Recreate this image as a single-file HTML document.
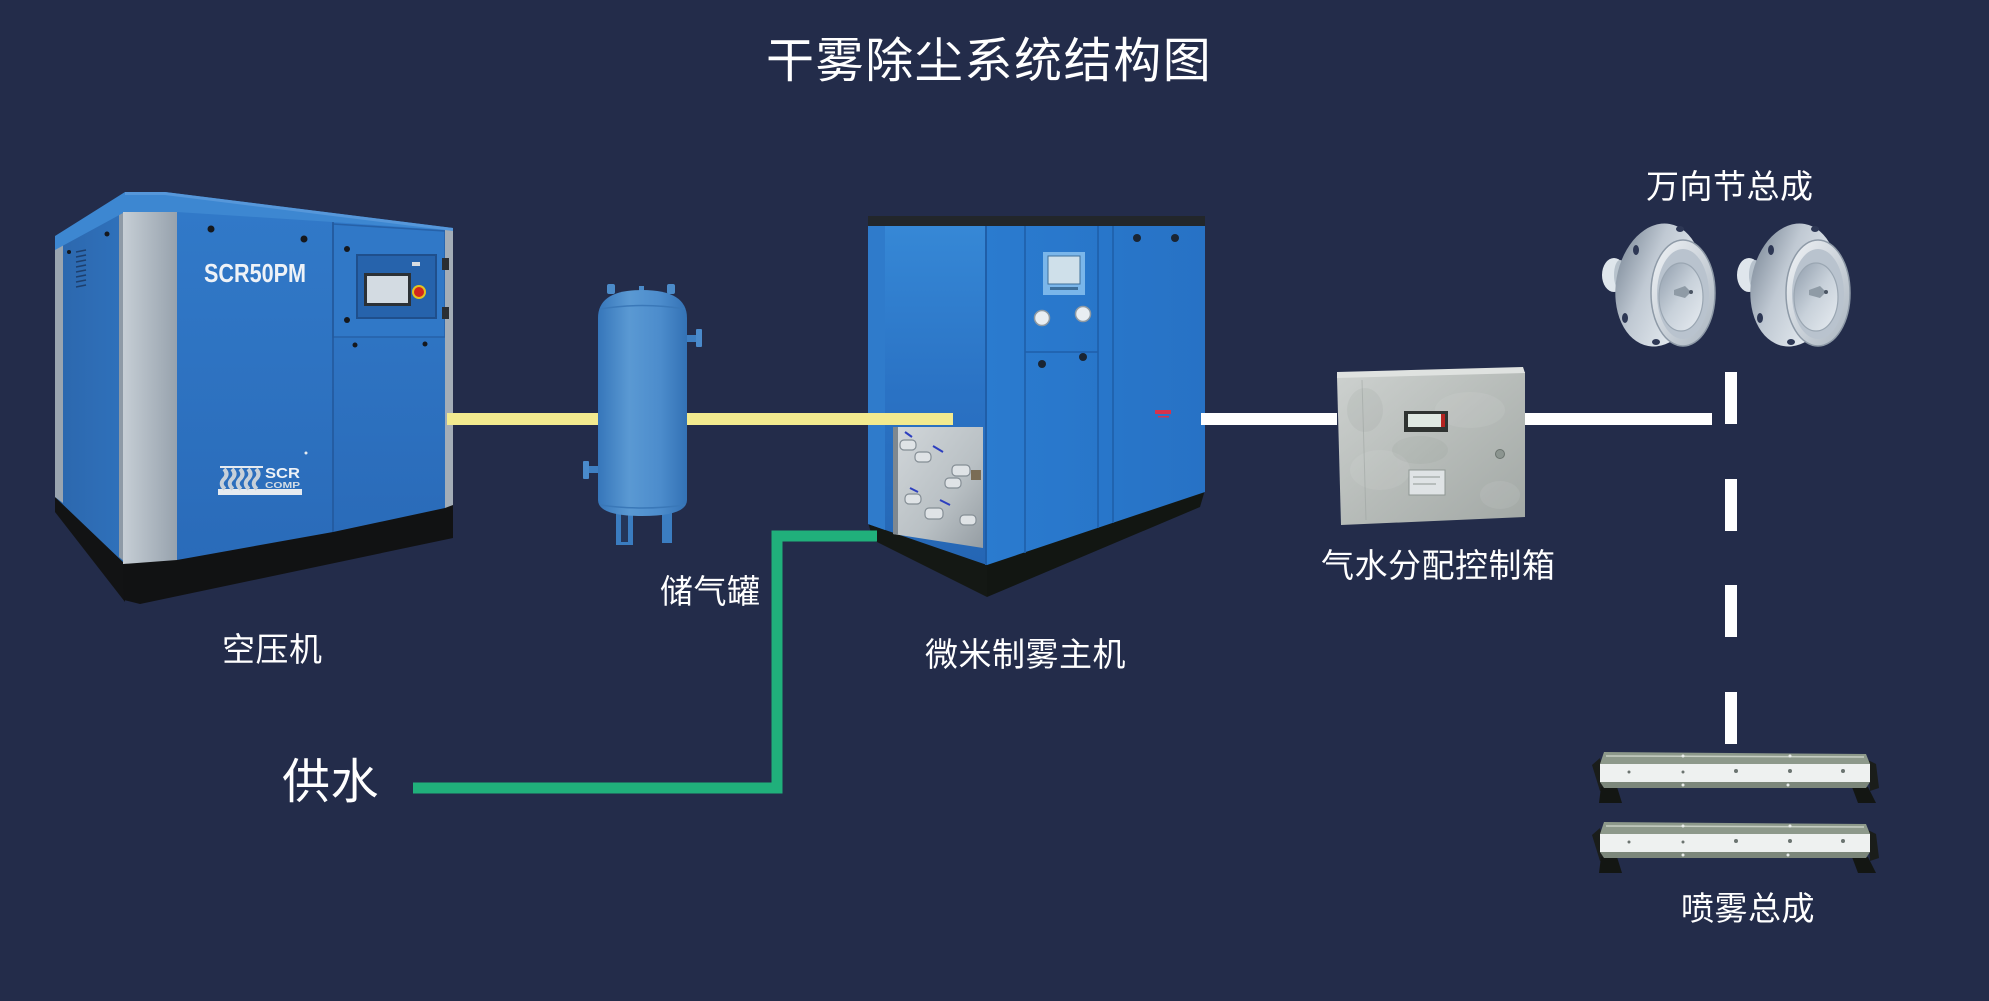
<!DOCTYPE html>
<html><head><meta charset="utf-8">
<style>
html,body{margin:0;padding:0;background:#232c4a;}
#c{position:relative;width:1989px;height:1001px;overflow:hidden;background:#232c4a;}
svg{position:absolute;left:0;top:0;}
.t{position:absolute;color:#fff;font-family:"Liberation Sans","Noto Sans CJK SC",sans-serif;line-height:1;white-space:nowrap;font-weight:400;}
</style></head><body><div id="c">
<svg width="1989" height="1001" viewBox="0 0 1989 1001">
<defs>
 <linearGradient id="gPil" x1="0" y1="0" x2="1" y2="0"><stop offset="0" stop-color="#c6ced5"/><stop offset="1" stop-color="#97a2ad"/></linearGradient>
 <linearGradient id="gFr" x1="0" y1="0" x2="0" y2="1"><stop offset="0" stop-color="#3179c8"/><stop offset="1" stop-color="#2a6bb9"/></linearGradient>
 <linearGradient id="gSd" x1="0" y1="0" x2="1" y2="0"><stop offset="0" stop-color="#2c67ad"/><stop offset="1" stop-color="#2f71bb"/></linearGradient>
 <linearGradient id="gTank" x1="0" y1="0" x2="1" y2="0"><stop offset="0" stop-color="#3676ba"/><stop offset="0.35" stop-color="#5a99d3"/><stop offset="0.7" stop-color="#4c8ccc"/><stop offset="1" stop-color="#3372b5"/></linearGradient>
 <linearGradient id="gMS" x1="0" y1="0" x2="0" y2="1"><stop offset="0" stop-color="#3688d6"/><stop offset="0.5" stop-color="#2a72c4"/><stop offset="1" stop-color="#2566b4"/></linearGradient>
 <linearGradient id="gMF" x1="0" y1="0" x2="1" y2="0"><stop offset="0" stop-color="#2a7bcf"/><stop offset="1" stop-color="#2772c5"/></linearGradient>
 <linearGradient id="gWin" x1="0" y1="0" x2="1" y2="1"><stop offset="0" stop-color="#d2d7da"/><stop offset="0.6" stop-color="#b9c0c4"/><stop offset="1" stop-color="#959da3"/></linearGradient>
 <linearGradient id="gBox" x1="0" y1="0" x2="1" y2="1"><stop offset="0" stop-color="#cdd1cf"/><stop offset="0.5" stop-color="#b7bcb9"/><stop offset="1" stop-color="#a2a8a5"/></linearGradient>
 <linearGradient id="gFl" x1="0" y1="0" x2="1" y2="0.3"><stop offset="0" stop-color="#7d8a99"/><stop offset="0.45" stop-color="#c0c9d3"/><stop offset="1" stop-color="#e6ecf1"/></linearGradient>
 <linearGradient id="gRim" x1="0" y1="0" x2="1" y2="1"><stop offset="0" stop-color="#f1f4f7"/><stop offset="1" stop-color="#a9b4bf"/></linearGradient>
 <linearGradient id="gDish" x1="0" y1="0" x2="1" y2="1"><stop offset="0" stop-color="#8f9cab"/><stop offset="0.5" stop-color="#c8d1da"/><stop offset="1" stop-color="#e8edf2"/></linearGradient>
</defs>

<!-- ============ COMPRESSOR ============ -->
<polygon points="55,495 123,556 125,602 55,512" fill="#121314"/>
<polygon points="123,560 453,503 453,538 140,604 124,600" fill="#111213"/>
<polygon points="55,248 123,212 123,562 55,497" fill="url(#gSd)"/>
<polygon points="55,248 63,244 63,503 55,497" fill="#9aa5b0"/>
<polygon points="119,213 125,212 125,562 119,557" fill="#8e9aa6"/>
<polygon points="55,236 125,192 165,192 453,228 453,244 177,213 123,213 55,250" fill="#3d87d1"/>
<polygon points="125,192 165,192 453,228 453,231 165,195 125,195" fill="#5697da"/>
<polygon points="123,212 177,212 177,560 123,564" fill="url(#gPil)"/>
<polygon points="177,212 333,222 333,532 177,560" fill="url(#gFr)"/>
<polygon points="333,222 445,230 445,508 333,532" fill="url(#gFr)"/>
<polygon points="333,224 445,231 445,337 333,337" fill="#3078c7" stroke="#2661a8" stroke-width="1.5"/>
<line x1="333" y1="222" x2="333" y2="532" stroke="#22579a" stroke-width="1.5"/>
<polygon points="445,230 453,231 453,505 445,508" fill="#a3adb7"/>
<rect x="442" y="258" width="7" height="12" fill="#2a2e33"/>
<rect x="442" y="307" width="7" height="12" fill="#2a2e33"/>
<rect x="357" y="255" width="79" height="63" fill="#2663ac" stroke="#1f4f8c" stroke-width="2"/>
<rect x="364" y="273" width="47" height="33" fill="#2c3136"/>
<rect x="367" y="276" width="41" height="27" fill="#d3dbe2"/>
<circle cx="419" cy="292" r="7" fill="#e3c21f"/>
<circle cx="419" cy="292" r="5" fill="#d3261c"/>
<rect x="412" y="262" width="8" height="4" fill="#d8dde2"/>
<g fill="#15181d">
<circle cx="211" cy="229" r="3.5"/><circle cx="304" cy="239" r="3.5"/>
<circle cx="347" cy="249" r="3"/><circle cx="347" cy="320" r="3"/>
<circle cx="355" cy="345" r="2.5"/><circle cx="425" cy="344" r="2.5"/>
<circle cx="107" cy="234" r="2.5"/><circle cx="69" cy="252" r="2"/>
</g>
<g stroke="#1d3f6d" stroke-width="1.6">
<line x1="76" y1="252" x2="86" y2="250"/><line x1="76" y1="257" x2="86" y2="255"/><line x1="76" y1="262" x2="86" y2="260"/>
<line x1="76" y1="267" x2="86" y2="265"/><line x1="76" y1="272" x2="86" y2="270"/><line x1="76" y1="277" x2="86" y2="275"/>
<line x1="76" y1="282" x2="86" y2="280"/><line x1="76" y1="287" x2="86" y2="285"/>
</g>
<text x="204" y="282" font-family="Liberation Sans, sans-serif" font-weight="bold" font-size="26" fill="#eef2f7" textLength="102" lengthAdjust="spacingAndGlyphs">SCR50PM</text>
<g>
<line x1="220" y1="467" x2="263" y2="467" stroke="#e6ebf0" stroke-width="2"/>
<rect x="218" y="489" width="84" height="6" fill="#e6ebf0"/>
<g fill="none" stroke="#c7d0d9" stroke-width="4">
<path d="M224,469 q5,5 0,10 q-5,5 1,10"/>
<path d="M232,469 q5,5 0,10 q-5,5 1,10"/>
<path d="M240,469 q5,5 0,10 q-5,5 1,10"/>
<path d="M248,469 q5,5 0,10 q-5,5 1,10"/>
<path d="M256,469 q5,5 0,10 q-5,5 1,10"/>
</g>
<text x="265" y="478" font-family="Liberation Sans, sans-serif" font-weight="bold" font-size="15" fill="#eef2f7" textLength="35" lengthAdjust="spacingAndGlyphs">SCR</text>
<text x="265" y="488" font-family="Liberation Sans, sans-serif" font-weight="bold" font-size="8" fill="#d5dde5" textLength="35" lengthAdjust="spacingAndGlyphs">COMP</text>
<circle cx="306" cy="453" r="1.5" fill="#e6ebf0"/>
</g>

<!-- ============ MAIN MACHINE ============ -->
<polygon points="868,522 987,556 987,597 873,540" fill="#141814"/>
<polygon points="987,563 1205,490 1200,507 987,597" fill="#121612"/>
<polygon points="868,225 987,225 987,565 868,524" fill="url(#gMS)"/>
<polygon points="868,225 885,225 885,530 868,524" fill="#2f7bcb"/>
<line x1="986" y1="225" x2="986" y2="565" stroke="#1f5ea8" stroke-width="2"/>
<polygon points="893,427 983,427 983,548 893,534" fill="url(#gWin)"/>
<polygon points="893,427 898,427 898,535 893,534" fill="#7f888f"/>
<g fill="#dfe3e6" stroke="#858e95" stroke-width="1.2">
<rect x="900" y="440" width="16" height="10" rx="4"/>
<rect x="915" y="452" width="16" height="10" rx="4"/>
<rect x="952" y="465" width="18" height="11" rx="4"/>
<rect x="945" y="478" width="16" height="10" rx="4"/>
<rect x="905" y="494" width="16" height="10" rx="4"/>
<rect x="925" y="508" width="18" height="11" rx="4"/>
<rect x="960" y="515" width="16" height="10" rx="4"/>
</g>
<g stroke="#2d3fbf" stroke-width="2">
<line x1="905" y1="432" x2="912" y2="437"/><line x1="933" y1="446" x2="943" y2="452"/>
<line x1="910" y1="488" x2="918" y2="492"/><line x1="940" y1="500" x2="950" y2="505"/>
</g>
<rect x="971" y="470" width="10" height="10" fill="#7a6c55"/>
<polygon points="987,225 1205,225 1205,492 987,565" fill="url(#gMF)"/>
<polygon points="868,216 1205,216 1205,226 868,226" fill="#22262a"/>
<g stroke="#1f5fa9" stroke-width="1.6" fill="none">
<line x1="1025" y1="226" x2="1025" y2="553"/>
<line x1="1098" y1="226" x2="1098" y2="528"/>
<line x1="1025" y1="352" x2="1098" y2="352"/>
<line x1="1113" y1="226" x2="1113" y2="523"/>
</g>
<rect x="1043" y="252" width="42" height="43" fill="#7ab6ea"/>
<rect x="1048" y="256" width="32" height="28" fill="#cfe0ea" stroke="#3d6f9b" stroke-width="1"/>
<rect x="1050" y="287" width="28" height="3" fill="#3d6f9b"/>
<circle cx="1042" cy="318" r="7.5" fill="#e9eef2" stroke="#8f9aa3" stroke-width="1.5"/>
<circle cx="1083" cy="314" r="7.5" fill="#e9eef2" stroke="#8f9aa3" stroke-width="1.5"/>
<g fill="#1a2533">
<circle cx="1137" cy="238" r="4"/><circle cx="1175" cy="238" r="4"/>
<circle cx="1042" cy="364" r="4"/><circle cx="1083" cy="357" r="4"/>
</g>
<rect x="1155" y="410" width="16" height="4" fill="#d6334c"/>
<rect x="1158" y="416" width="11" height="1.5" fill="#d6334c"/>

<!-- ============ LINES ============ -->
<rect x="447" y="413" width="506" height="12" fill="#f2ea8f"/>
<polyline points="413,788 777,788 777,536 877,536" fill="none" stroke="#20b07b" stroke-width="11" stroke-linejoin="miter"/>
<rect x="1201" y="413" width="136" height="12" fill="#ffffff"/>
<rect x="1525" y="413" width="187" height="12" fill="#ffffff"/>
<g fill="#ffffff">
<rect x="1725" y="372" width="12" height="52"/>
<rect x="1725" y="479" width="12" height="52"/>
<rect x="1725" y="585" width="12" height="52"/>
<rect x="1725" y="692" width="12" height="52"/>
</g>

<!-- ============ TANK ============ -->
<rect x="616" y="505" width="17" height="40" fill="#3a7cc0"/>
<rect x="621" y="512" width="7" height="30" fill="#24365a"/>
<rect x="662" y="505" width="10" height="38" fill="#3b7dc1"/>
<rect x="607" y="284" width="8" height="10" rx="2" fill="#4b8bc9"/>
<rect x="667" y="284" width="8" height="10" rx="2" fill="#4b8bc9"/>
<rect x="639" y="286" width="5" height="6" fill="#4b8bc9"/>
<path d="M598,318 Q598,290 642,290 Q687,290 687,318 L687,500 Q687,516 642,516 Q598,516 598,500 Z" fill="url(#gTank)"/>
<path d="M600,309 Q642,302 685,309" fill="none" stroke="#3a78b8" stroke-width="1.5"/>
<path d="M600,505 Q642,511 685,505" fill="none" stroke="#3a78b8" stroke-width="1.5"/>
<rect x="687" y="335" width="10" height="7" fill="#3e7fc2"/>
<rect x="696" y="329" width="6" height="18" rx="1" fill="#4a8acb"/>
<rect x="588" y="466" width="10" height="7" fill="#3e7fc2"/>
<rect x="583" y="461" width="6" height="18" rx="1" fill="#4a8acb"/>

<!-- ============ CONTROL BOX ============ -->
<polygon points="1337,377 1525,372 1525,517 1341,525" fill="url(#gBox)"/>
<polygon points="1337,372 1523,367 1525,373 1337,378" fill="#dfe2e0"/>
<g fill="#ffffff" opacity="0.07">
<ellipse cx="1380" cy="470" rx="30" ry="20"/><ellipse cx="1470" cy="410" rx="35" ry="18"/><ellipse cx="1500" cy="495" rx="20" ry="14"/>
</g>
<g fill="#6f7a72" opacity="0.08">
<ellipse cx="1420" cy="450" rx="28" ry="14"/><ellipse cx="1365" cy="410" rx="18" ry="22"/>
</g>
<line x1="1362" y1="380" x2="1366" y2="520" stroke="#9aa19e" stroke-width="1" opacity="0.5"/>
<rect x="1404" y="411" width="44" height="21" fill="#2f3331"/>
<rect x="1408" y="414" width="33" height="13" fill="#dfe8e2"/>
<rect x="1441" y="414" width="4" height="13" fill="#b52320"/>
<rect x="1409" y="470" width="36" height="25" fill="#dfe3e5" stroke="#8f9794" stroke-width="1"/>
<g stroke="#8f9794" stroke-width="1"><line x1="1413" y1="477" x2="1440" y2="477"/><line x1="1413" y1="484" x2="1436" y2="484"/></g>
<circle cx="1500" cy="454" r="4.5" fill="#8c9590" stroke="#6b746f" stroke-width="1"/>

<!-- ============ UNIVERSAL JOINTS ============ -->
<g id="j1">
<ellipse cx="1614" cy="275" rx="12" ry="17" fill="#dfe6ec"/>
<ellipse cx="1620" cy="275" rx="6" ry="15" fill="#b7c2cc"/>
<ellipse cx="1659" cy="285" rx="43" ry="62" fill="url(#gFl)" transform="rotate(10 1659 285)"/>
<ellipse cx="1683" cy="293" rx="32" ry="53" fill="url(#gRim)" stroke="#8e9aa7" stroke-width="1.5"/>
<ellipse cx="1683" cy="294" rx="26" ry="45" fill="#b9c3ce"/>
<ellipse cx="1681" cy="297" rx="22" ry="34" fill="url(#gDish)" stroke="#9aa6b2" stroke-width="1.2"/>
<path d="M1674,290 l11,-4 l6,6 l-6,6 l-11,-3z" fill="#8f9ba6"/>
<circle cx="1691" cy="292" r="2" fill="#4b5563"/>
<g fill="#2d3754">
<ellipse cx="1680" cy="229" rx="4" ry="3"/><ellipse cx="1636" cy="250" rx="3" ry="5"/>
<ellipse cx="1625" cy="318" rx="3" ry="5"/><ellipse cx="1656" cy="342" rx="4" ry="3"/>
</g>
</g>
<g transform="translate(135,0)">
<ellipse cx="1614" cy="275" rx="12" ry="17" fill="#dfe6ec"/>
<ellipse cx="1620" cy="275" rx="6" ry="15" fill="#b7c2cc"/>
<ellipse cx="1659" cy="285" rx="43" ry="62" fill="url(#gFl)" transform="rotate(10 1659 285)"/>
<ellipse cx="1683" cy="293" rx="32" ry="53" fill="url(#gRim)" stroke="#8e9aa7" stroke-width="1.5"/>
<ellipse cx="1683" cy="294" rx="26" ry="45" fill="#b9c3ce"/>
<ellipse cx="1681" cy="297" rx="22" ry="34" fill="url(#gDish)" stroke="#9aa6b2" stroke-width="1.2"/>
<path d="M1674,290 l11,-4 l6,6 l-6,6 l-11,-3z" fill="#8f9ba6"/>
<circle cx="1691" cy="292" r="2" fill="#4b5563"/>
<g fill="#2d3754">
<ellipse cx="1680" cy="229" rx="4" ry="3"/><ellipse cx="1636" cy="250" rx="3" ry="5"/>
<ellipse cx="1625" cy="318" rx="3" ry="5"/><ellipse cx="1656" cy="342" rx="4" ry="3"/>
</g>
</g>

<!-- ============ SPRAY BARS ============ -->
<g id="bar">
<polygon points="1592,765 1600,758 1607,787 1600,791" fill="#1a1d1a"/>
<polygon points="1601,787 1617,787 1622,803 1599,803" fill="#131613"/>
<polygon points="1852,787 1868,787 1876,803 1858,803" fill="#131613"/>
<polygon points="1868,760 1876,764 1879,788 1870,791" fill="#1a1d1a"/>
<polygon points="1604,752 1866,754 1870,764 1600,764" fill="#8d998b"/>
<line x1="1606" y1="756" x2="1864" y2="757" stroke="#c6cec3" stroke-width="1.5"/>
<rect x="1600" y="764" width="270" height="18" fill="#eef1f0"/>
<polygon points="1600,782 1870,782 1866,788 1604,788" fill="#7c877b"/>
<g fill="#6b7470"><circle cx="1629" cy="772" r="1.5"/><circle cx="1683" cy="772" r="1.5"/><circle cx="1736" cy="771" r="2"/><circle cx="1790" cy="771" r="2"/><circle cx="1843" cy="771" r="2"/></g>
<g fill="#e8ecea"><circle cx="1683" cy="756" r="1.5"/><circle cx="1790" cy="756" r="1.5"/><circle cx="1683" cy="785" r="1.5"/><circle cx="1788" cy="785" r="1.5"/></g>
</g>
<g transform="translate(0,70)">
<polygon points="1592,765 1600,758 1607,787 1600,791" fill="#1a1d1a"/>
<polygon points="1601,787 1617,787 1622,803 1599,803" fill="#131613"/>
<polygon points="1852,787 1868,787 1876,803 1858,803" fill="#131613"/>
<polygon points="1868,760 1876,764 1879,788 1870,791" fill="#1a1d1a"/>
<polygon points="1604,752 1866,754 1870,764 1600,764" fill="#8d998b"/>
<line x1="1606" y1="756" x2="1864" y2="757" stroke="#c6cec3" stroke-width="1.5"/>
<rect x="1600" y="764" width="270" height="18" fill="#eef1f0"/>
<polygon points="1600,782 1870,782 1866,788 1604,788" fill="#7c877b"/>
<g fill="#6b7470"><circle cx="1629" cy="772" r="1.5"/><circle cx="1683" cy="772" r="1.5"/><circle cx="1736" cy="771" r="2"/><circle cx="1790" cy="771" r="2"/><circle cx="1843" cy="771" r="2"/></g>
<g fill="#e8ecea"><circle cx="1683" cy="756" r="1.5"/><circle cx="1790" cy="756" r="1.5"/><circle cx="1683" cy="785" r="1.5"/><circle cx="1788" cy="785" r="1.5"/></g>
</g>
</svg>

<div class="t" style="left:766px;top:38px;font-size:48px;letter-spacing:1.6px">干雾除尘系统结构图</div>
<div class="t" style="left:222px;top:633px;font-size:33px;letter-spacing:0.5px">空压机</div>
<div class="t" style="left:660px;top:575px;font-size:33px;letter-spacing:0.5px">储气罐</div>
<div class="t" style="left:925px;top:638px;font-size:33px;letter-spacing:0.5px">微米制雾主机</div>
<div class="t" style="left:1321px;top:549px;font-size:33px;letter-spacing:0.5px">气水分配控制箱</div>
<div class="t" style="left:1646px;top:170px;font-size:33px;letter-spacing:0.5px">万向节总成</div>
<div class="t" style="left:1681px;top:892px;font-size:33px;letter-spacing:0.5px">喷雾总成</div>
<div class="t" style="left:282px;top:759px;font-size:48px;letter-spacing:0.5px">供水</div>
</div></body></html>
